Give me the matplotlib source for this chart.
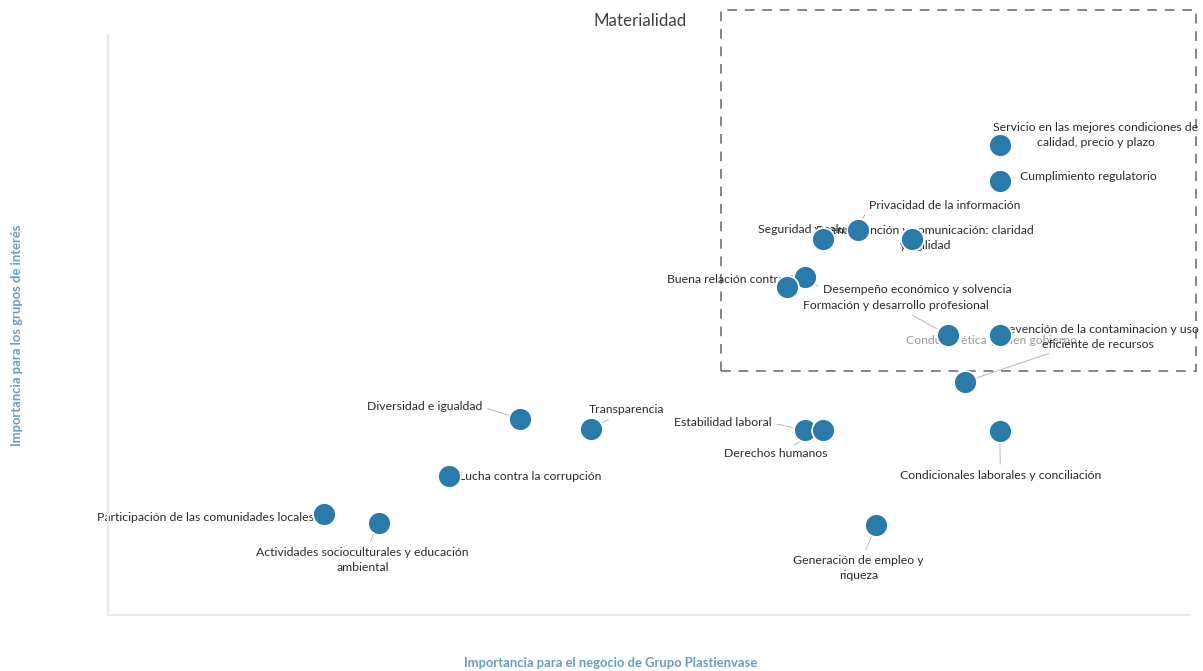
import matplotlib
matplotlib.use("Agg")
import matplotlib.pyplot as plt
from matplotlib.patches import Rectangle

plt.rcParams["font.family"] = ["Lato", "DejaVu Sans"]

# Material topics: importance for the business (x) vs. for stakeholders (y)
temas = [
    "Servicio en las mejores condiciones de\ncalidad, precio y plazo",
    "Cumplimiento regulatorio",
    "Privacidad de la información",
    "Seguridad y salud",
    "Buena atención y comunicación: claridad\ny agilidad",
    "Desempeño económico y solvencia",
    "Buena relación contractual",
    "Formación y desarrollo profesional",
    "Conducta ética y buen gobierno",
    "Prevención de la contaminacion y uso\neficiente de recursos",
    "Diversidad e igualdad",
    "Transparencia",
    "Estabilidad laboral",
    "Derechos humanos",
    "Condicionales laborales y conciliación",
    "Lucha contra la corrupción",
    "Participación de las comunidades locales",
    "Actividades socioculturales y educación\nambiental",
    "Generación de empleo y\nriqueza",
]
imp_negocio = [8.24, 8.24, 6.93, 6.61, 7.43, 6.44, 6.28, 7.76, 8.24, 7.92,
               3.81, 4.46, 6.44, 6.61, 8.24, 3.15, 2.00, 2.50, 7.10]
imp_grupos = [8.10, 7.48, 6.64, 6.48, 6.48, 5.83, 5.66, 4.83, 4.83, 4.02,
              3.38, 3.21, 3.19, 3.19, 3.17, 2.40, 1.74, 1.59, 1.55]

# label placement: offset in pixels, alignment, leader line, colour
layout = [
    ((96, 10), "center", False, "#2b2b2b"),
    ((20, 5), "left", True, "#2b2b2b"),
    ((11, 24), "left", True, "#2b2b2b"),
    ((-65, 10), "left", False, "#2b2b2b"),
    ((13, 1), "center", False, "#2b2b2b"),
    ((18, -13), "left", True, "#2b2b2b"),
    ((-120, 7), "left", False, "#2b2b2b"),
    ((-52, 29), "center", True, "#2b2b2b"),
    ((-94, -6), "left", False, "#9a9a9a"),
    ((133, 45), "center", True, "#2b2b2b"),
    ((-38, 12), "right", True, "#2b2b2b"),
    ((36, 19), "center", True, "#2b2b2b"),
    ((-33, 7), "right", True, "#2b2b2b"),
    ((-47, -24), "center", True, "#2b2b2b"),
    ((1, -44), "center", True, "#2b2b2b"),
    ((10, -1), "left", False, "#2b2b2b"),
    ((-10, -3), "right", False, "#2b2b2b"),
    ((-16, -37), "center", True, "#2b2b2b"),
    ((-18, -43), "center", True, "#2b2b2b"),
]
relpos_by_ha = {"left": (0.0, 0.5), "right": (1.0, 0.5), "center": (0.5, 0.5)}

fig = plt.figure(figsize=(12.03, 6.71), dpi=100, facecolor="white")
ax = fig.add_axes([108 / 1203, 1 - 615 / 671, (1190 - 108) / 1203, (615 - 35) / 671])

ax.scatter(imp_negocio, imp_grupos, s=270, color="#2b7baa",
           edgecolor="white", linewidth=1.2, zorder=3)

for tema, x, y, (off, ha, leader, col) in zip(temas, imp_negocio, imp_grupos, layout):
    props = None
    if leader:
        props = dict(arrowstyle="-", color="#b8b8b8", lw=0.7, shrinkA=2, shrinkB=9,
                     relpos=relpos_by_ha[ha])
    ax.annotate(tema, xy=(x, y), xytext=off, textcoords="offset pixels",
                ha=ha, va="center", multialignment="center", linespacing=1.45,
                fontsize=8.8, color=col, arrowprops=props, zorder=2)

# dashed box around the most material topics
ax.add_patch(Rectangle((5.67, 4.21), 10.06 - 5.67, 10.43 - 4.21, fill=False,
                       edgecolor="#858585", linewidth=1.4, linestyle=(0, (5, 4)),
                       clip_on=False, zorder=1))

ax.set_xlim(0, 10)
ax.set_ylim(0, 10)
ax.set_xticks([])
ax.set_yticks([])
for side in ["top", "right"]:
    ax.spines[side].set_visible(False)
for side in ["left", "bottom"]:
    ax.spines[side].set_color("#e8e8e8")
    ax.spines[side].set_linewidth(1.5)

fig.text(640 / 1203, 1 - 21 / 671, "Materialidad", ha="center", va="center",
         fontsize=12.2, color="#404040")
fig.text(17 / 1203, 1 - 335 / 671, "Importancia para los grupos de interés",
         rotation=90, ha="center", va="center", fontsize=9.4,
         fontweight="bold", color="#6a9cbc")
fig.text(611 / 1203, 1 - 663 / 671, "Importancia para el negocio de Grupo Plastienvase",
         ha="center", va="center", fontsize=9.4, fontweight="bold", color="#6a9cbc")

fig.savefig("out.png", dpi=100, facecolor="white")
